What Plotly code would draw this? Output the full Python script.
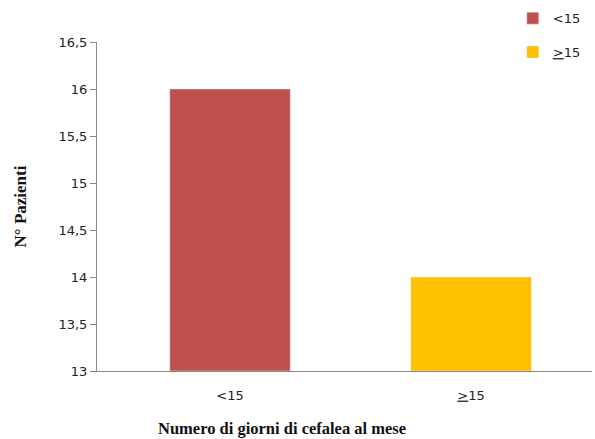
import plotly.graph_objects as go

# Patients grouped by number of headache days per month
categories = ["<15", "≥15"]
tick_labels = ["&lt;15", "<u>&gt;</u>15"]
patients = [16, 14]
colors = ["#C0504D", "#FFC000"]
axis_floor = 13

fig = go.Figure()
for i, (cat, lab, val, col) in enumerate(zip(categories, tick_labels, patients, colors)):
    fig.add_trace(go.Bar(
        x=[i], y=[val - axis_floor], base=axis_floor, name=lab,
        marker_color=col, width=0.5, legendgroup=cat, showlegend=True,
    ))

fig.update_layout(
    width=595, height=439,
    margin=dict(l=97, r=3, t=42, b=68),
    paper_bgcolor="white", plot_bgcolor="white",
    separators=",.",
    font=dict(family="DejaVu Sans", size=13, color="#222"),
    showlegend=True,
    legend=dict(x=0.84, y=1.118, xanchor="left", yanchor="top",
                bgcolor="rgba(0,0,0,0)", tracegroupgap=14,
                traceorder="grouped",
                font=dict(size=13), itemwidth=30),
    annotations=[dict(
        text="<b>Numero di giorni di cefalea al mese</b>",
        xref="paper", yref="paper", x=0.374, y=-0.175,
        xanchor="center", yanchor="middle", showarrow=False,
        font=dict(family="Liberation Serif", size=16.5, color="#111"),
    )],
)
fig.update_xaxes(
    tickmode="array", tickvals=[0, 1], ticktext=tick_labels,
    range=[-0.552, 1.502], showgrid=False, zeroline=False,
    showline=True, linecolor="#888", linewidth=1,
    ticks="outside", ticklen=12, tickcolor="rgba(0,0,0,0)",
    tickfont=dict(size=13),
)
fig.update_yaxes(
    range=[13, 16.5], dtick=0.5, showgrid=False, zeroline=False,
    showline=True, linecolor="#888", linewidth=1, ticks="outside",
    ticklen=6, tickcolor="#888", tickfont=dict(size=13),
    title=dict(text="<b>N° Pazienti</b>",
               font=dict(family="Liberation Serif", size=17, color="#111"),
               standoff=27),
)
fig.write_html("out.html")
